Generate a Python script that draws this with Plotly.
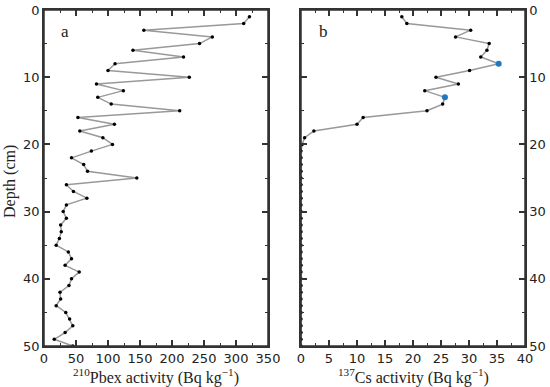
import plotly.graph_objects as go

# Panel a: 210Pbex activity vs depth
pb_depth = list(range(1, 51))
pb_activity = [321, 312, 156, 263, 243, 139, 218, 111, 100, 227,
               82, 124, 84, 105, 212, 53, 110, 56, 92, 107,
               74, 43, 62, 68, 145, 35, 46, 67, 35, 30,
               35, 26, 27, 24, 19, 38, 43, 33, 55, 43,
               39, 25, 26, 19, 34, 40, 45, 33, 16, 45]

# Panel b: 137Cs activity vs depth
cs_depth = list(range(1, 51))
cs_activity = [18.0, 18.9, 30.3, 27.6, 33.6, 33.2, 32.1, 35.3, 30.1, 24.1,
               28.1, 22.1, 25.7, 25.3, 22.5, 11.1, 10.0, 2.3, 0.65, 0.2,
               0, 0, 0, 0, 0, 0, 0, 0, 0, 0,
               0, 0, 0, 0, 0, 0, 0, 0, 0, 0,
               0, 0, 0, 0, 0, 0, 0, 0, 0, 0]
cs_peak_depth = [8, 13]
cs_peak_activity = [35.3, 25.7]

W, H = 550, 387
LINE = "#999999"
AX = "#333333"


def px(x):
    return x / W


def py(y):
    return 1 - y / H


fig = go.Figure()
fig.add_trace(go.Scatter(x=pb_activity, y=pb_depth, mode="lines+markers",
                         line=dict(color=LINE, width=1.5),
                         marker=dict(color="black", size=3.5),
                         xaxis="x", yaxis="y", showlegend=False, cliponaxis=False))
fig.add_trace(go.Scatter(x=cs_activity, y=cs_depth, mode="lines+markers",
                         line=dict(color=LINE, width=1.5),
                         marker=dict(color="black", size=3.5),
                         xaxis="x2", yaxis="y2", showlegend=False, cliponaxis=False))
fig.add_trace(go.Scatter(x=cs_peak_activity, y=cs_peak_depth, mode="markers",
                         marker=dict(color="#1f78c1", size=6),
                         xaxis="x2", yaxis="y2", showlegend=False, cliponaxis=False))

tickfont = dict(family="DejaVu Sans, Arial, sans-serif", size=13, color="#222222")
common = dict(showline=True, linecolor=AX, linewidth=1.5, mirror="allticks",
              ticks="inside", ticklen=6, tickwidth=1.5, tickcolor=AX, automargin=False,
              showgrid=False, zeroline=False, tickfont=tickfont)
minor = dict(ticks="inside", ticklen=3.5, tickwidth=1.2, tickcolor=AX, showgrid=False)
# opposite-side tick-only axes (no labels) that draw the top/right frame with ticks
ghost = dict(showline=True, linecolor=AX, linewidth=1.5, ticks="inside", ticklen=6,
             tickwidth=1.5, tickcolor=AX, automargin=False, showgrid=False,
             zeroline=False, showticklabels=False)

xa = [px(44), px(268)]
xb = [px(301), px(525)]
ydom = [py(346), py(10)]

fig.update_layout(
    width=W, height=H,
    margin=dict(l=0, r=0, t=0, b=0, autoexpand=False),
    paper_bgcolor="white", plot_bgcolor="white",
    xaxis=dict(domain=xa, range=[0, 350], dtick=50, tick0=0,
               minor=dict(dtick=25, **minor), anchor="y", **common),
    yaxis=dict(domain=ydom, range=[50, 0], dtick=10, tick0=0,
               minor=dict(dtick=5, **minor), anchor="x", side="left", **common),
    xaxis2=dict(domain=xb, range=[0, 40], dtick=5, tick0=0,
                minor=dict(dtick=2.5, **minor), anchor="y2", **common),
    yaxis2=dict(domain=ydom, range=[50, 0], dtick=10, tick0=0,
                minor=dict(dtick=5, **minor), anchor="x2", side="right", **common),
    xaxis3=dict(overlaying="x", side="top", anchor="y3", range=[0, 350], dtick=50, tick0=0,
                minor=dict(dtick=25, **minor), **ghost),
    yaxis3=dict(overlaying="y", side="right", anchor="x3", range=[50, 0], dtick=10, tick0=0,
                minor=dict(dtick=5, **minor), **ghost),
    xaxis4=dict(overlaying="x2", side="top", anchor="y4", range=[0, 40], dtick=5, tick0=0,
                minor=dict(dtick=2.5, **minor), **ghost),
    yaxis4=dict(overlaying="y2", side="left", anchor="x4", range=[50, 0], dtick=10, tick0=0,
                minor=dict(dtick=5, **minor), **ghost),
)
# invisible traces to activate the opposite-side tick axes
fig.add_trace(go.Scatter(x=[10], y=[10], xaxis="x3", yaxis="y3", mode="markers",
                         marker=dict(opacity=0), showlegend=False, hoverinfo="skip"))
fig.add_trace(go.Scatter(x=[10], y=[10], xaxis="x4", yaxis="y4", mode="markers",
                         marker=dict(opacity=0), showlegend=False, hoverinfo="skip"))

# full frame around each panel, referenced to the axis domains
for xr, yr in (("x domain", "y domain"), ("x2 domain", "y2 domain")):
    fig.add_shape(type="rect", xref=xr, yref=yr, x0=0, x1=1, y0=0, y1=1,
                  line=dict(color=AX, width=1.5), fillcolor="rgba(0,0,0,0)", layer="above")

serif = dict(family="Liberation Serif, Times New Roman, serif", size=16, color="#222222")
fig.add_annotation(x=px(156), y=py(376), xref="paper", yref="paper",
                   text="<sup>210</sup>Pbex activity (Bq kg<sup>−1</sup>)",
                   showarrow=False, font=serif, xanchor="center", yanchor="middle")
fig.add_annotation(x=px(413), y=py(376), xref="paper", yref="paper",
                   text="<sup>137</sup>Cs activity (Bq kg<sup>−1</sup>)",
                   showarrow=False, font=serif, xanchor="center", yanchor="middle")
fig.add_annotation(x=px(10), y=py(182), xref="paper", yref="paper",
                   text="Depth (cm)", textangle=-90,
                   showarrow=False, font=serif, xanchor="center", yanchor="middle")
fig.add_annotation(x=px(65), y=py(32), xref="paper", yref="paper",
                   text="a", showarrow=False, font=dict(family=serif["family"], size=17, color="#222222"),
                   xanchor="center", yanchor="middle")
fig.add_annotation(x=px(323), y=py(32), xref="paper", yref="paper",
                   text="b", showarrow=False, font=dict(family=serif["family"], size=17, color="#222222"),
                   xanchor="center", yanchor="middle")

# remove the default 8px page margin so the figure starts at the window corner
fig.write_html("out.html", config={"displayModeBar": False},
               post_script="document.body.style.margin='0';")
